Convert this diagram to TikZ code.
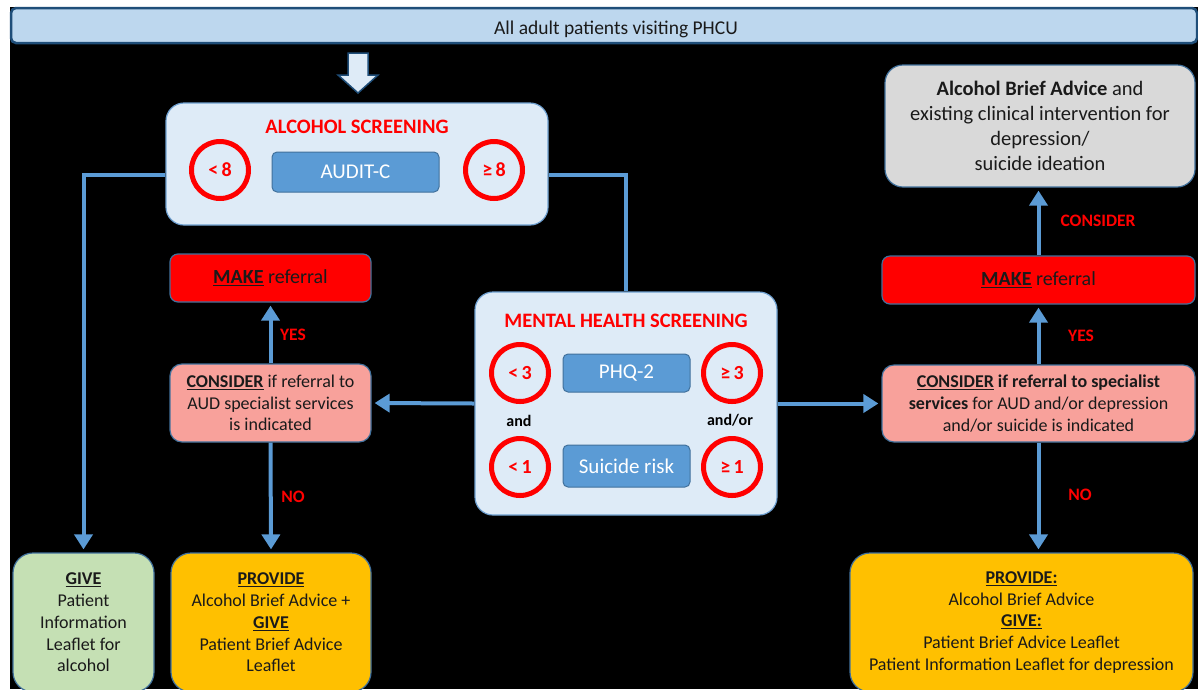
\documentclass[tikz,border=0pt]{standalone}
\usepackage{fontspec}
\setmainfont{Carlito}
\usetikzlibrary{arrows.meta,calc}
\definecolor{lineblue}{HTML}{5B9BD5}
\definecolor{scrfill}{HTML}{DEEBF7}
\definecolor{scredge}{HTML}{6FA0D0}
\definecolor{testfill}{HTML}{5B9BD5}
\definecolor{testedge}{HTML}{41719C}
\definecolor{ringred}{HTML}{FF0000}
\definecolor{makefill}{HTML}{FF0000}
\definecolor{consfill}{HTML}{F8A19B}
\definecolor{grayfill}{HTML}{D9D9D9}
\definecolor{orangefill}{HTML}{FFC000}
\definecolor{greenfill}{HTML}{C5E0B4}
\definecolor{topfill}{HTML}{BDD7EE}
\definecolor{topedge}{HTML}{1F4E79}
\definecolor{txt}{HTML}{1A1A1A}
\begin{document}
\begin{tikzpicture}[x=1pt,y=-1pt,
  box/.style={draw=testedge, line width=1.2pt, rounded corners=12pt, align=center, inner sep=0pt, text=txt},
  screen/.style={box, fill=scrfill, draw=scredge, rounded corners=18pt},
  test/.style={draw=testedge, fill=testfill, line width=1pt, rounded corners=5pt, text=white, inner sep=0pt, font=\fontsize{21}{25}\selectfont},
  ring/.style={circle, draw=ringred, line width=5pt, minimum size=57pt, inner sep=0pt, text=ringred, font=\bfseries\fontsize{20}{24}\selectfont},
  lab/.style={text=ringred, font=\bfseries\fontsize{17.5}{21}\selectfont, inner sep=0pt},
  conn/.style={draw=lineblue, line width=4pt},
  arr/.style={conn, -{Triangle[width=18pt,length=15pt]}, shorten >=3pt},
  bodytext/.style={font=\fontsize{18}{21.7}\selectfont},
]
\useasboundingbox (0,0) rectangle (1198,689);
\clip (0,0) rectangle (1198,689);
\fill[white] (0,0) rectangle (1198,689);
\fill[black] (10,7) rectangle (1198,689);

% top bar
\node[draw=topedge, fill=topfill, line width=2.5pt, rounded corners=5pt, minimum width=1186pt, minimum height=35pt, inner sep=0pt] (top) at (604,25.5) {};
\node[text=txt, font=\fontsize{19.5}{23}\selectfont, inner sep=0pt, anchor=base] (toptext) at (616,34) {All adult patients visiting PHCU};

% block arrow
\draw[draw=topedge, fill=scrfill, line width=1.5pt, line join=miter] (348,53) -- (368,53) -- (368,75) -- (378,75) -- (358,93) -- (338,75) -- (348,75) -- cycle;

% alcohol screening
\node[screen, minimum width=382pt, minimum height=122pt] (alc) at (357,164) {};
\node[lab, font=\bfseries\fontsize{20.5}{24}\selectfont] (alcT) at (357,127) {ALCOHOL SCREENING};
\node[ring] (r8l) at (220,170) {<\,8};
\node[ring] (r8g) at (494,170) {≥\,8};
\node[test, minimum width=167pt, minimum height=40pt] (audit) at (355.5,172) {AUDIT-C};

% mental health screening
\node[screen, minimum width=302pt, minimum height=223pt] (mh) at (626,403.5) {};
\node[lab, font=\bfseries\fontsize{20.5}{24}\selectfont] (mhT) at (626,321) {MENTAL HEALTH SCREENING};
\node[ring] (r3l) at (520,373) {<\,3};
\node[ring] (r3g) at (732,373) {≥\,3};
\node[ring] (r1l) at (520,467) {<\,1};
\node[ring] (r1g) at (732,467) {≥\,1};
\node[test, minimum width=127pt, minimum height=38pt] (phq) at (626.5,373) {PHQ-2};
\node[test, minimum width=127pt, minimum height=42pt] (suic) at (626.5,466) {Suicide risk};
\node[text=black, font=\bfseries\fontsize{16}{19}\selectfont, inner sep=0pt] (and) at (519,421) {and};
\node[text=black, font=\bfseries\fontsize{16}{19}\selectfont, inner sep=0pt] (andor) at (730,420) {and/or};

% left column
\node[box, fill=makefill, minimum width=201pt, minimum height=48pt, rounded corners=8pt, font=\fontsize{20}{24}\selectfont] (makeL) at (270.5,278) {\underline{\textbf{MAKE}} referral};
\node[box, fill=consfill, minimum width=201pt, minimum height=78pt, rounded corners=12pt, bodytext] (consL) at (270.5,403) {\underline{\textbf{CONSIDER}} if referral to\\AUD specialist services\\is indicated};

% right column
\node[box, fill=grayfill, minimum width=310pt, minimum height=122pt, rounded corners=18pt, font=\fontsize{20.5}{25}\selectfont] (gray) at (1040,126) {\textbf{Alcohol Brief Advice} and\\existing clinical intervention for\\depression/\\suicide ideation};
\node[box, fill=makefill, minimum width=313pt, minimum height=48pt, rounded corners=8pt, font=\fontsize{20}{24}\selectfont] (makeR) at (1038.5,280) {\underline{\textbf{MAKE}} referral};
\node[box, fill=consfill, minimum width=313pt, minimum height=77pt, rounded corners=12pt, bodytext] (consR) at (1038.5,403.5) {\underline{\textbf{CONSIDER}} \textbf{if referral to specialist}\\\textbf{services} for AUD and/or depression\\and/or suicide is indicated};

% bottom boxes
\node[box, fill=greenfill, minimum width=141pt, minimum height=139pt, rounded corners=20pt, bodytext] (green) at (83.5,622.5) {\underline{\textbf{GIVE}}\\Patient\\Information\\Leaflet for\\alcohol};
\node[box, fill=orangefill, minimum width=200pt, minimum height=139pt, rounded corners=20pt, bodytext] (provL) at (271,622.5) {\underline{\textbf{PROVIDE}}\\Alcohol Brief Advice +\\\underline{\textbf{GIVE}}\\Patient Brief Advice\\Leaflet};
\node[box, fill=orangefill, minimum width=343pt, minimum height=139pt, rounded corners=20pt, bodytext] (provR) at (1021.5,622.5) {\underline{\textbf{PROVIDE:}}\\Alcohol Brief Advice\\\underline{\textbf{GIVE:}}\\Patient Brief Advice Leaflet\\Patient Information Leaflet for depression};

% connectors
\draw[arr] ($(alc.west)+(0,11)$) -| (green.north);
\draw[conn] ($(alc.east)+(0,11)$) -| (mh.north);
\draw[arr] (mh.west) -- (consL.east);
\draw[arr] (mh.east) -- (consR.west);
\draw[arr] (consL.north) -- (makeL.south);
\draw[arr] (consL.south) -- (provL.north);
\draw[arr] (consR.north) -- (makeR.south);
\draw[arr] (makeR.north) -- (makeR.north |- gray.south);
\draw[arr] (consR.south) -- (consR.south |- provR.north);

% labels
\node[lab] (yesL) at (293,335) {YES};
\node[lab] (noL) at (293,497) {NO};
\node[lab] (yesR) at (1081,336) {YES};
\node[lab] (noR) at (1080,495) {NO};
\node[lab] (consLab) at (1098,221) {CONSIDER};
\end{tikzpicture}
\end{document}
